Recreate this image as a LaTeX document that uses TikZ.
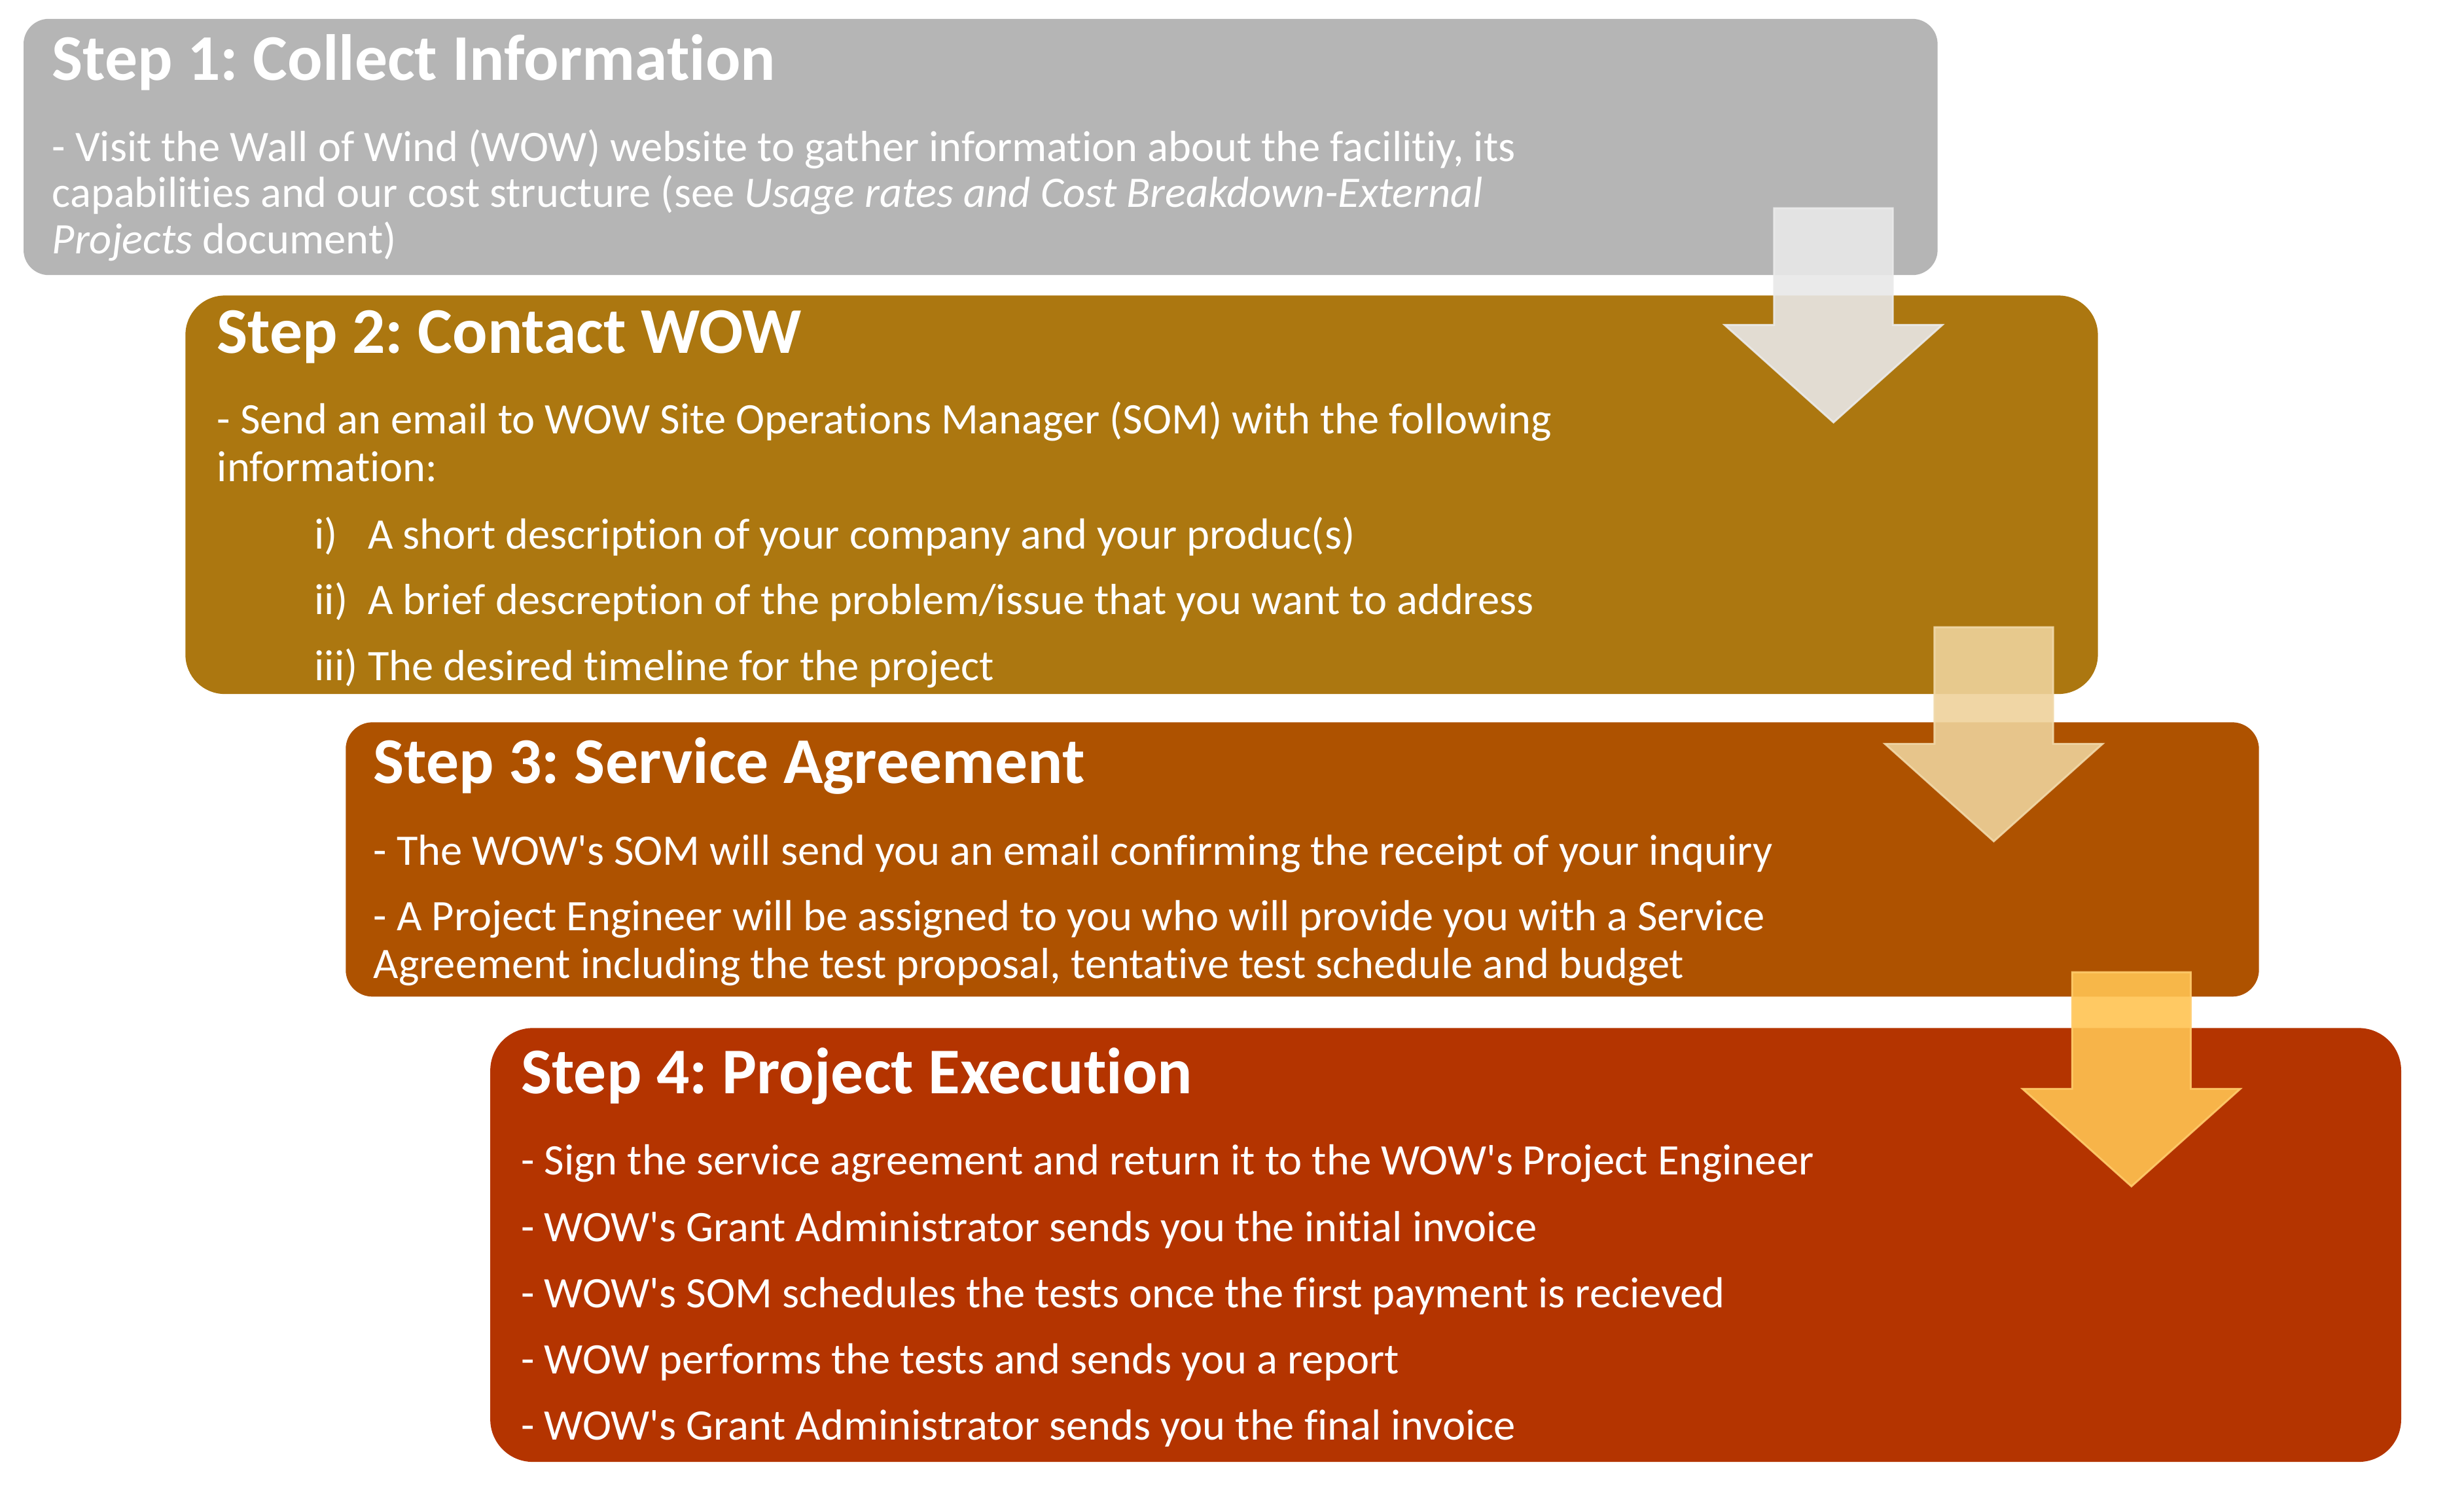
\documentclass[tikz,border=0pt]{standalone}
\usepackage{fontspec}
\setmainfont{Carlito}[Ligatures={TeXOff,NoCommon}]
\frenchspacing
\definecolor{stepgray}{RGB}{181,181,181}
\definecolor{stepgold}{RGB}{172,119,16}
\definecolor{steprust}{RGB}{174,82,0}
\definecolor{stepbrick}{RGB}{180,52,0}
\definecolor{arrowgray}{RGB}{232,232,232}
\definecolor{arrowsand}{RGB}{238,210,155}
\definecolor{arrowamber}{RGB}{255,195,82}
\newcommand{\steparrow}[3]{\filldraw[fill=#3, draw=#3!85!white, line width=1.2pt, fill opacity=0.9, draw opacity=0.9] (#1,#2) -- ++(75.5,0) -- ++(0,74.2) -- ++(31.5,0) -- ++(-69.25,62) -- ++(-69.25,-62) -- ++(31.5,0) -- cycle;}

\begin{document}
\begin{tikzpicture}[x=1pt,y=-1pt]
\tikzstyle{every node}+=[inner sep=0pt]
\tikzstyle{stepbox}=[rectangle, anchor=center]
\tikzstyle{head}=[text=white, anchor=base west, font=\fontsize{41.5}{41.5}\selectfont\bfseries]
\tikzstyle{body}=[text=white, anchor=base west, font=\fontsize{27.7}{30}\selectfont]
\useasboundingbox (0,0) rectangle (1568,958.7);
\node [stepbox, fill=stepgray, minimum width=1218pt, minimum height=163pt, rounded corners=16pt] (s1) at (624,93.5) {};
\node [stepbox, fill=stepgold, minimum width=1217pt, minimum height=253.5pt, rounded corners=25pt] (s2) at (726.5,314.75) {};
\node [stepbox, fill=steprust, minimum width=1217.5pt, minimum height=174.5pt, rounded corners=17pt] (s3) at (828.75,546.75) {};
\node [stepbox, fill=stepbrick, minimum width=1216pt, minimum height=276pt, rounded corners=27pt] (s4) at (920,792) {};
\steparrow{1129}{132.5}{arrowgray}
\steparrow{1231}{399}{arrowsand}
\steparrow{1318.6}{618.5}{arrowamber}
\node [head] (h1) at (33,51) {Step 1: Collect Information};
\node [body] (t1a) at (33,102.5) {- Visit the Wall of Wind (WOW) website to gather information about the facilitiy, its};
\node [body] (t1b) at (33,132) {capabilities and our cost structure (see \textit{Usage rates and Cost Breakdown-External}};
\node [body] (t1c) at (33,161.5) {\textit{Projects} document)};
\node [head] (h2) at (138,224.5) {Step 2: Contact WOW};
\node [body] (t2a) at (138,276) {- Send an email to WOW Site Operations Manager (SOM) with the following};
\node [body] (t2b) at (138,306.5) {information:};
\node [body] (n2c) at (200,349) {i)};
\node [body] (t2c) at (234,349) {A short description of your company and your produc(s)};
\node [body] (n2d) at (200,391) {ii)};
\node [body] (t2d) at (234,391) {A brief descreption of the problem/issue that you want to address};
\node [body] (n2e) at (200,433) {iii)};
\node [body] (t2e) at (234,433) {The desired timeline for the project};
\node [head] (h3) at (237.5,498.4) {Step 3: Service Agreement};
\node [body] (t3a) at (237.5,550.5) {- The WOW's SOM will send you an email confirming the receipt of your inquiry};
\node [body] (t3b) at (237.5,592) {- A Project Engineer will be assigned to you who will provide you with a Service};
\node [body] (t3c) at (237.5,622.5) {Agreement including the test proposal, tentative test schedule and budget};
\node [head] (h4) at (331.5,695.8) {Step 4: Project Execution};
\node [body] (t4a) at (331.5,747.4) {- Sign the service agreement and return it to the WOW's Project Engineer};
\node [body] (t4b) at (331.5,789.7) {- WOW's Grant Administrator sends you the initial invoice};
\node [body] (t4c) at (331.5,832) {- WOW's SOM schedules the tests once the first payment is recieved};
\node [body] (t4d) at (331.5,874) {- WOW performs the tests and sends you a report};
\node [body] (t4e) at (331.5,916) {- WOW's Grant Administrator sends you the final invoice};
\end{tikzpicture}
\end{document}
